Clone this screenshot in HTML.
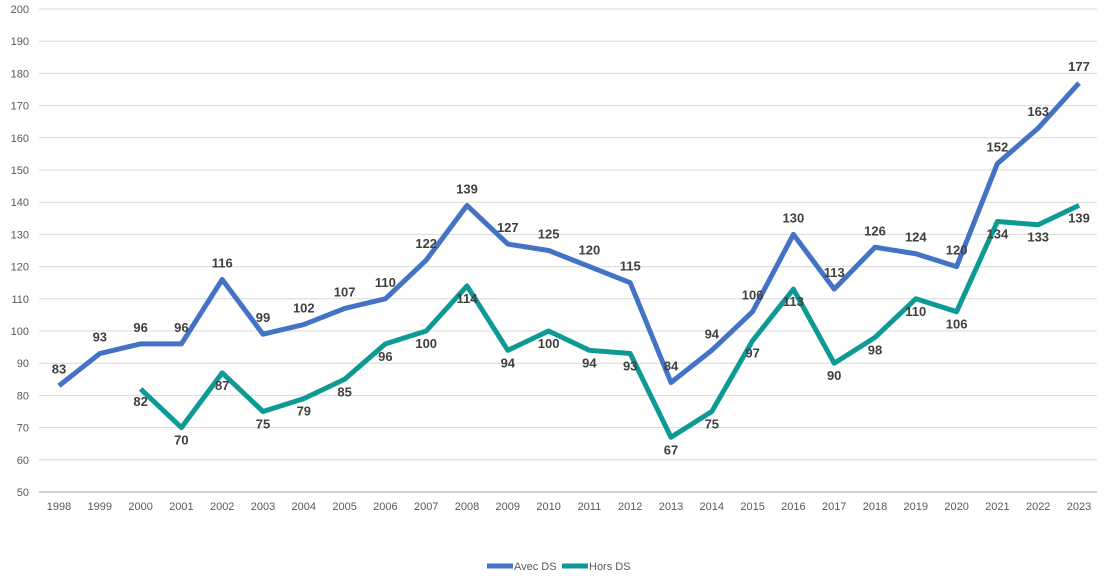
<!DOCTYPE html>
<html><head><meta charset="utf-8"><style>
html,body{margin:0;padding:0;background:#fff;}
svg{display:block;font-family:"Liberation Sans",sans-serif;}
</style></head><body>
<svg id="chart" width="1111" height="578" viewBox="0 0 1111 578">
<g id="grid"></g><g id="yticks"></g><g id="xticks"></g><g id="series"></g><g id="labels"></g>
<g>
<line x1="487" y1="566" x2="513" y2="566" stroke="#4472C4" stroke-width="5"/>
<text x="514" y="570" font-size="11" fill="#595959">Avec DS</text>
<line x1="562" y1="566" x2="588" y2="566" stroke="#0E9A94" stroke-width="5"/>
<text x="589" y="570" font-size="11" fill="#595959">Hors DS</text>
</g>
</svg>
<script>
const years=[1998,1999,2000,2001,2002,2003,2004,2005,2006,2007,2008,2009,2010,2011,2012,2013,2014,2015,2016,2017,2018,2019,2020,2021,2022,2023];
const avecDS=[83,93,96,96,116,99,102,107,110,122,139,127,125,120,115,84,94,106,130,113,126,124,120,152,163,177];
const horsDS=[null,null,82,70,87,75,79,85,96,100,114,94,100,94,93,67,75,97,113,90,98,110,106,134,133,139];
const yTicks=[50,60,70,80,90,100,110,120,130,140,150,160,170,180,190,200];
const NS="http://www.w3.org/2000/svg";
const x0=59,dx=40.8,yBase=492,yTop=9;
const X=i=>x0+i*dx;
const Y=v=>yBase-(v-50)*(yBase-yTop)/150;
function mk(tag,attrs,parent){const e=document.createElementNS(NS,tag);for(const k in attrs)e.setAttribute(k,attrs[k]);parent.appendChild(e);return e;}
const g=document.getElementById('grid'),yt=document.getElementById('yticks'),xt=document.getElementById('xticks'),sg=document.getElementById('series'),lg=document.getElementById('labels');
yTicks.forEach(v=>{
 const l=mk('line',{x1:39,x2:1097,y1:Y(v),y2:Y(v),stroke:v===50?'#d0d0d0':'#d9d9d9','stroke-width':v===50?2:1},g);
 
 
 const t=mk('text',{x:29,y:Y(v)+4,'text-anchor':'end','font-size':11,fill:'#595959'},yt);
 t.textContent=v;
 
 
});
years.forEach((yr,i)=>{
 const t=mk('text',{x:X(i),y:510,'text-anchor':'middle','font-size':11,fill:'#595959'},xt);
 t.textContent=yr;
 
 
});
function draw(arr,color,name,off){
 let d='';arr.forEach((v,i)=>{if(v==null)return;d+=(d?'L':'M')+X(i)+','+Y(v);});
 const p=mk('path',{d:d,fill:'none',stroke:color,'stroke-width':5,'stroke-linejoin':'round'},sg);
 
 
 arr.forEach((v,i)=>{if(v==null)return;
  const t=mk('text',{x:X(i),y:Y(v)+off,'text-anchor':'middle','font-size':13,'font-weight':'bold',fill:'#404040'},lg);
  t.textContent=v;
  
  
 });
}
draw(horsDS,'#0E9A94','hors-ds',17);
draw(avecDS,'#4472C4','avec-ds',-12);
</script>
</body></html>
